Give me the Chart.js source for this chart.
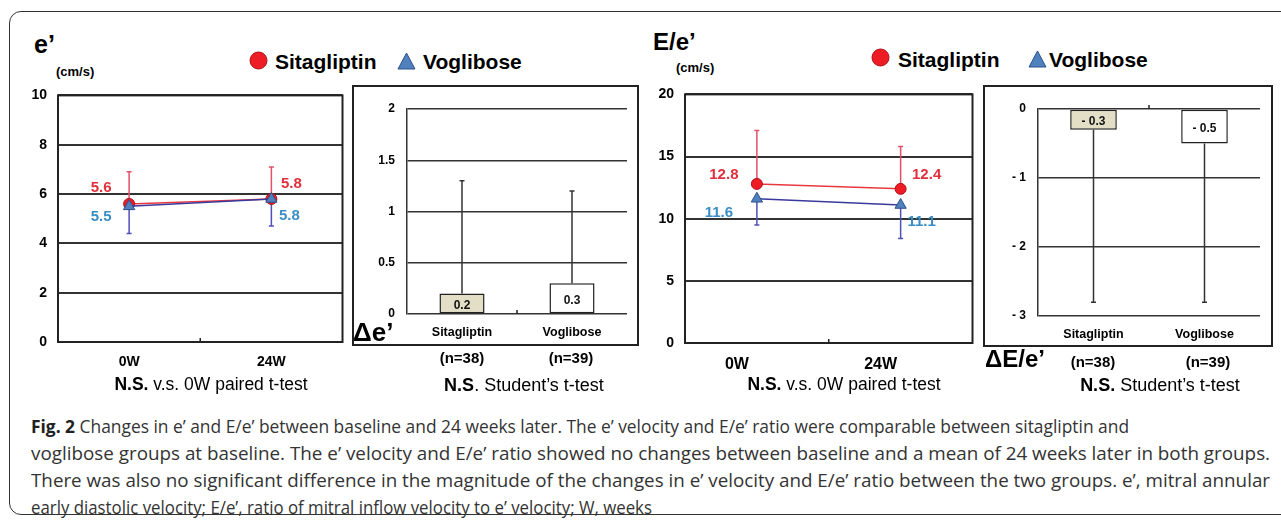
<!DOCTYPE html>
<html>
<head>
<meta charset="utf-8">
<title>Fig. 2</title>
<script src="https://cdn.jsdelivr.net/npm/chart.js@4.4.1/dist/chart.umd.min.js"></script>
<style>
  body { margin: 0; width: 1281px; height: 521px; overflow: hidden; background: #fff; position: relative;
         font-family: "Liberation Sans", Arial, sans-serif; color: #000; }
  .frame { position: absolute; left: 9px; top: 11px; width: 1300px; height: 502px;
           border: 1.5px solid #333; border-radius: 12px; }
  .box { position: absolute; }
  .txt { position: absolute; white-space: nowrap; line-height: 1; transform: translateY(-50%); }
  .mid { transform: translate(-50%, -50%); }
  .big { font-weight: bold; }
  .unit { font-size: 13px; font-weight: bold; }
  .lg { font-size: 21px; font-weight: bold; }
  .nlab { font-size: 15px; font-weight: bold; }
  .caption { position: absolute; left: 31px; top: 412px; font-family: "Open Sans", sans-serif; font-size: 18.5px;
             line-height: 27px; color: #333; white-space: nowrap; }
  .caption span { display: inline-block; transform-origin: 0 50%; }
  .caption b { color: #222; }
</style>
</head>
<body>
<div class="frame"></div>

<!-- left half: e' -->
<div class="txt big" style="left:34px; top:44px; font-size:25px;">e’</div>
<div class="txt unit" style="left:56px; top:71px;">(cm/s)</div>
<svg class="box" style="left:249px; top:51px" width="19" height="19"><circle cx="9.5" cy="9.5" r="8.5" fill="#ee1c25" stroke="#b01018" stroke-width="1"/></svg>
<div class="txt lg" style="left:275px; top:61px;">Sitagliptin</div>
<svg class="box" style="left:397px; top:52px" width="19" height="18"><polygon points="9.5,1 18,17 1,17" fill="#4f81bd" stroke="#2f4f8f" stroke-width="1"/></svg>
<div class="txt lg" style="left:423px; top:61px;">Voglibose</div>

<canvas id="eChart" class="box" style="left:0px; top:76px;" width="350" height="300"></canvas>
<canvas id="deChart" class="box" style="left:352px; top:85px;" width="287" height="261"></canvas>

<div class="txt big" style="left:353px; top:332px; font-size:26px;">Δe’</div>
<div id="deN0" class="txt mid nlab" style="left:462px; top:357px;"></div>
<div id="deN1" class="txt mid nlab" style="left:571px; top:357px;"></div>
<div class="txt mid" style="left:211px; top:385px; font-size:17.5px;"><b>N.S.</b> v.s. 0W paired t-test</div>
<div class="txt mid" style="left:524px; top:385px; font-size:18px;"><b>N.S</b>. Student’s t-test</div>

<!-- right half: E/e' -->
<div class="txt big" style="left:653px; top:42px; font-size:24px;">E/e’</div>
<div class="txt unit" style="left:676px; top:67px;">(cm/s)</div>
<svg class="box" style="left:871px; top:48px" width="19" height="19"><circle cx="9.5" cy="9.5" r="8.5" fill="#ee1c25" stroke="#b01018" stroke-width="1"/></svg>
<div class="txt lg" style="left:898px; top:59px;">Sitagliptin</div>
<svg class="box" style="left:1028px; top:50px" width="19" height="18"><polygon points="9.5,1 18,17 1,17" fill="#4f81bd" stroke="#2f4f8f" stroke-width="1"/></svg>
<div class="txt lg" style="left:1049px; top:59px;">Voglibose</div>

<canvas id="eeChart" class="box" style="left:640px; top:75px;" width="340" height="300"></canvas>
<canvas id="deeChart" class="box" style="left:983px; top:85px;" width="290" height="262"></canvas>

<div class="txt big" style="left:985px; top:359px; font-size:24px;">ΔE/e’</div>
<div id="deeN0" class="txt mid nlab" style="left:1093px; top:361px;"></div>
<div id="deeN1" class="txt mid nlab" style="left:1208px; top:361px;"></div>
<div class="txt mid" style="left:844px; top:385px; font-size:17.5px;"><b>N.S.</b> v.s. 0W paired t-test</div>
<div class="txt mid" style="left:1160px; top:385px; font-size:18px;"><b>N.S.</b> Student’s t-test</div>

<div class="caption" id="caption">
  <span data-w="1098"><b>Fig. 2</b> Changes in e’ and E/e’ between baseline and 24 weeks later. The e’ velocity and E/e’ ratio were comparable between sitagliptin and</span><br>
  <span data-w="1239">voglibose groups at baseline. The e’ velocity and E/e’ ratio showed no changes between baseline and a mean of 24 weeks later in both groups.</span><br>
  <span data-w="1239">There was also no significant difference in the magnitude of the changes in e’ velocity and E/e’ ratio between the two groups. e’, mitral annular</span><br>
  <span data-w="621">early diastolic velocity; E/e’, ratio of mitral inflow velocity to e’ velocity; W, weeks</span>
</div>

<script>
// data
const weeks = ['0W', '24W'];
const groups = ['Sitagliptin', 'Voglibose'];
const groupN = ['(n=38)', '(n=39)'];

// e' (cm/s), mean and SD
const eSita = [5.6, 5.8];
const eSitaSD = [1.3, 1.3];
const eVogli = [5.5, 5.8];
const eVogliSD = [1.1, 1.1];
const eTicks = [0, 2, 4, 6, 8, 10];

// E/e'
const eeSita = [12.8, 12.4];
const eeSitaSD = [4.3, 3.4];
const eeVogli = [11.6, 11.1];
const eeVogliSD = [2.1, 2.7];
const eeTicks = [0, 5, 10, 15, 20];

// change over 24 weeks
const deltaE = [0.2, 0.3];
const deltaESD = [1.1, 0.9];
const deltaETicks = [0, 0.5, 1, 1.5, 2];
const deltaEE = [-0.3, -0.5];
const deltaEESD = [2.5, 2.3];
const deltaEETicks = [-3, -2, -1, 0];

Chart.defaults.font.family = '"Liberation Sans", Arial, sans-serif';
Chart.defaults.color = '#000';

// SD whiskers, one direction only
const errorBars = {
    id: 'errorBars',
    beforeDatasetsDraw(chart, args, opts) {
        const { ctx, scales: { x, y } } = chart;
        (opts.sets || []).forEach(s => {
            const vals = chart.data.datasets[s.dataset].data;
            ctx.save();
            ctx.strokeStyle = s.color;
            ctx.lineWidth = 1.5;
            vals.forEach((v, i) => {
                const px = x.getPixelForValue(i);
                const to = y.getPixelForValue(v + s.dir * s.sd[i]);
                ctx.beginPath();
                ctx.moveTo(px, y.getPixelForValue(v));
                ctx.lineTo(px, to);
                ctx.moveTo(px - 2.5, to);
                ctx.lineTo(px + 2.5, to);
                ctx.stroke();
            });
            ctx.restore();
        });
    }
};

// numbers next to points / inside bars
const valueLabels = {
    id: 'valueLabels',
    afterDatasetsDraw(chart, args, opts) {
        const ctx = chart.ctx;
        (opts.sets || []).forEach(s => {
            const meta = chart.getDatasetMeta(s.dataset);
            const vals = chart.data.datasets[s.dataset].data;
            ctx.save();
            ctx.font = s.font;
            ctx.fillStyle = s.color;
            ctx.textAlign = 'center';
            ctx.textBaseline = 'middle';
            meta.data.forEach((el, i) => {
                const off = s.offsets ? s.offsets[i] : [0, 0];
                const py = s.inBar ? (el.y + el.base) / 2 : el.y;
                ctx.fillText(s.format(vals[i]), el.x + off[0], py + off[1]);
            });
            ctx.restore();
        });
    }
};

// box around plot (line charts) or whole panel (bar charts)
const plotFrame = {
    id: 'plotFrame',
    afterDraw(chart, args, opts) {
        const { ctx, chartArea: a, scales: { x, y } } = chart;
        ctx.save();
        ctx.strokeStyle = '#222';
        ctx.lineWidth = 2;
        if (opts.mode === 'area') {
            ctx.strokeRect(a.left, a.top, a.right - a.left, a.bottom - a.top);
        } else {
            ctx.strokeRect(1, 1, chart.width - 2, chart.height - 2);
        }
        // small tick between the two categories
        const mid = (x.getPixelForValue(0) + x.getPixelForValue(1)) / 2;
        const y0 = opts.mode === 'area' ? a.bottom : y.getPixelForValue(0);
        ctx.lineWidth = 1.5;
        ctx.beginPath();
        ctx.moveTo(mid, y0);
        ctx.lineTo(mid, y0 - 4);
        ctx.stroke();
        ctx.restore();
    }
};

const fmt1 = v => v.toFixed(1);
const fmtNeg = v => (v < 0 ? '- ' + Math.abs(v).toFixed(1) : v.toFixed(1));
const fmtTick = v => (v < 0 ? '- ' + Math.abs(v) : String(v));

function sitaLine(data) {
    return { label: groups[0], data: data, borderColor: '#e8383e', borderWidth: 1.5, pointStyle: 'circle',
        pointRadius: 5.5, pointBackgroundColor: '#ee1c25', pointBorderColor: '#b01018', pointBorderWidth: 1, order: 1 };
}
function vogliLine(data) {
    return { label: groups[1], data: data, borderColor: '#3a3a9c', borderWidth: 1.5, pointStyle: 'triangle',
        pointRadius: 6.5, pointBackgroundColor: '#4f81bd', pointBorderColor: '#2f4f8f', pointBorderWidth: 1, order: 0 };
}

function lineChart(id, sita, sitaSD, vogli, vogliSD, ticks, cfg) {
    return new Chart(document.getElementById(id), {
        type: 'line',
        data: { labels: weeks, datasets: [sitaLine(sita), vogliLine(vogli)] },
        options: {
            responsive: false, animation: false, devicePixelRatio: 1,
            layout: { padding: { left: 0, top: 10, right: 7, bottom: 0 } },
            scales: {
                x: {
                    offset: true, grid: { display: false }, border: { display: false },
                    ticks: { font: { size: cfg.xFont, weight: 'bold' }, padding: cfg.xPad, labelOffset: cfg.labelOffset },
                    afterFit: s => { s.height = cfg.xHeight; }
                },
                y: {
                    min: ticks[0], max: ticks[ticks.length - 1],
                    afterBuildTicks: s => { s.ticks = ticks.map(v => ({ value: v })); },
                    ticks: { font: { size: cfg.yFont, weight: 'bold' }, padding: 11, callback: fmtTick },
                    grid: { color: '#333', lineWidth: 2, drawTicks: false }, border: { display: false },
                    afterFit: s => { s.width = cfg.yWidth; }
                }
            },
            plugins: {
                legend: { display: false }, tooltip: { enabled: false },
                errorBars: { sets: [
                    { dataset: 0, sd: sitaSD, dir: 1, color: '#e0506a' },
                    { dataset: 1, sd: vogliSD, dir: -1, color: '#5050b8' }
                ] },
                valueLabels: { sets: [
                    { dataset: 0, color: '#e0303c', font: 'bold 15px "Liberation Sans", Arial', format: fmt1, offsets: cfg.sitaOff },
                    { dataset: 1, color: '#3a8dc5', font: 'bold 15px "Liberation Sans", Arial', format: fmt1, offsets: cfg.vogliOff }
                ] },
                plotFrame: { mode: 'area' }
            }
        },
        plugins: [errorBars, valueLabels, plotFrame]
    });
}

function barChart(id, values, sd, dir, ticks, cfg) {
    return new Chart(document.getElementById(id), {
        type: 'bar',
        data: { labels: groups, datasets: [{
            data: values, backgroundColor: ['#e3dfc7', '#ffffff'], borderColor: '#222', borderWidth: 1.5,
            borderSkipped: false, barPercentage: cfg.barPct, categoryPercentage: 1
        }] },
        options: {
            responsive: false, animation: false, devicePixelRatio: 1,
            layout: { padding: { left: 0, top: 24, right: cfg.padRight, bottom: 0 } },
            scales: {
                x: {
                    grid: { display: false }, border: { display: false },
                    ticks: { font: { size: 12.5, weight: 'bold' }, padding: 3 },
                    afterFit: s => { s.height = cfg.xHeight; }
                },
                y: {
                    min: ticks[0], max: ticks[ticks.length - 1],
                    afterBuildTicks: s => { s.ticks = ticks.map(v => ({ value: v })); },
                    ticks: { font: { size: 12, weight: 'bold' }, padding: 12, callback: fmtTick },
                    grid: { color: '#333', lineWidth: 1.5, drawTicks: false },
                    border: { display: true, color: '#333', width: 1.5 },
                    afterFit: s => { s.width = 55; }
                }
            },
            plugins: {
                legend: { display: false }, tooltip: { enabled: false },
                errorBars: { sets: [{ dataset: 0, sd: sd, dir: dir, color: '#333' }] },
                valueLabels: { sets: [{ dataset: 0, color: '#111', font: 'bold 12px "Liberation Sans", Arial',
                    format: fmtNeg, inBar: true, offsets: [[0, 2], [0, 2]] }] },
                plotFrame: { mode: 'panel' }
            }
        },
        plugins: [errorBars, valueLabels, plotFrame]
    });
}

lineChart('eChart', eSita, eSitaSD, eVogli, eVogliSD, eTicks, {
    xFont: 14, xPad: 4, xHeight: 34, labelOffset: 0, yFont: 14, yWidth: 58,
    sitaOff: [[-28, -16], [20, -15]], vogliOff: [[-28, 10], [18, 17]]
});
lineChart('eeChart', eeSita, eeSitaSD, eeVogli, eeVogliSD, eeTicks, {
    xFont: 16, xPad: 4, xHeight: 32, labelOffset: -20, yFont: 14, yWidth: 45,
    sitaOff: [[-33, -9], [26, -14]], vogliOff: [[-38, 14], [21, 17]]
});
barChart('deChart', deltaE, deltaESD, 1, deltaETicks, { barPct: 0.41, padRight: 12, xHeight: 32 });
barChart('deeChart', deltaEE, deltaEESD, -1, deltaEETicks, { barPct: 0.42, padRight: 13, xHeight: 31 });

// group sizes under the bar panels
document.getElementById('deN0').textContent = groupN[0];
document.getElementById('deN1').textContent = groupN[1];
document.getElementById('deeN0').textContent = groupN[0];
document.getElementById('deeN1').textContent = groupN[1];

// squeeze caption lines to the reference line lengths
document.querySelectorAll('#caption span').forEach(function (line) {
    const target = Number(line.dataset.w);
    const k = target / line.getBoundingClientRect().width;
    line.style.transform = 'scaleX(' + k.toFixed(4) + ')';
});
</script>
</body>
</html>
